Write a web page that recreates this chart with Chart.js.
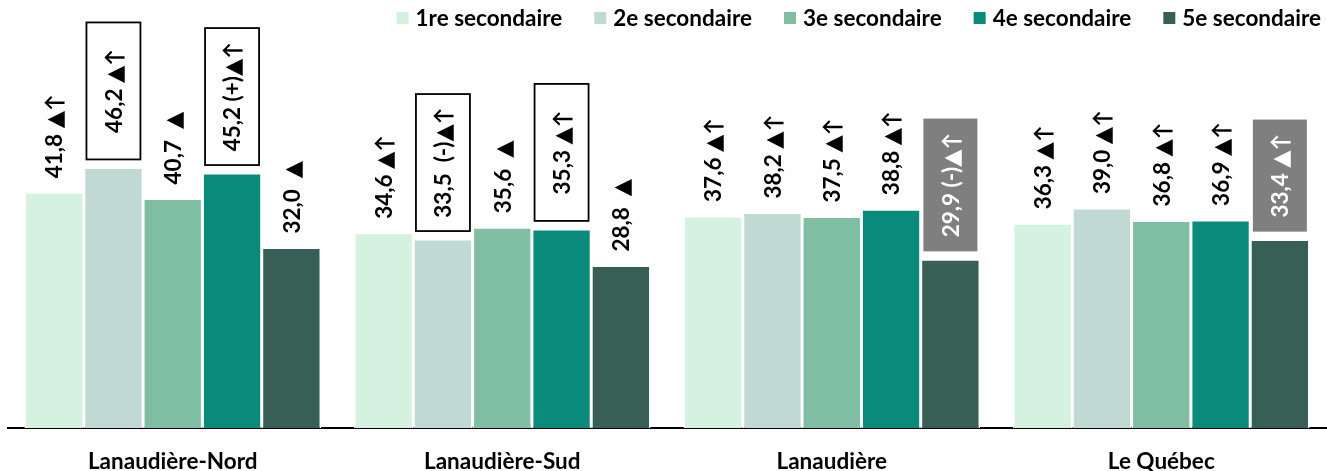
<!DOCTYPE html>
<html><head><meta charset="utf-8">
<script src="https://cdn.jsdelivr.net/npm/chart.js@4"></script>
<style>html,body{margin:0;padding:0;background:#fff}</style>
</head><body>
<canvas id="c" width="1327" height="471" style="width:1327px;height:471px;display:block"></canvas>
<script>
// ---- data ----
const categories = ['Lanaudière-Nord', 'Lanaudière-Sud', 'Lanaudière', 'Le Québec'];
const seriesNames = ['1re secondaire', '2e secondaire', '3e secondaire', '4e secondaire', '5e secondaire'];
const sec1 = [41.8, 34.6, 37.6, 36.3];
const sec2 = [46.2, 33.5, 38.2, 39.0];
const sec3 = [40.7, 35.6, 37.5, 36.8];
const sec4 = [45.2, 35.3, 38.8, 36.9];
const sec5 = [32.0, 28.8, 29.9, 33.4];
// annotation marks following each value
const sec1Notes = ['▲↑', '▲↑', '▲↑', '▲↑'];
const sec2Notes = ['▲↑', ' (-)▲↑', '▲↑', '▲↑'];
const sec3Notes = [' ▲', ' ▲', '▲↑', '▲↑'];
const sec4Notes = ['(+)▲↑', '▲↑', '▲↑', '▲↑'];
const sec5Notes = [' ▲', ' ▲', '(-)▲↑', '▲↑'];
// label frames: '' none, 'outline' black frame, 'gray' filled grey box
const sec1Frames = ['', '', '', ''];
const sec2Frames = ['outline', 'outline', '', ''];
const sec3Frames = ['', '', '', ''];
const sec4Frames = ['outline', 'outline', '', ''];
const sec5Frames = ['', '', 'gray', 'gray'];

// ---- styles ----
const colors = ['#D5F2E1', '#C0D9D3', '#80BEA3', '#0A8A7A', '#375F55'];
const FONT = 'Lato, "DejaVu Sans", sans-serif';

const values = [sec1, sec2, sec3, sec4, sec5];
const notes = [sec1Notes, sec2Notes, sec3Notes, sec4Notes, sec5Notes];
const frames = [sec1Frames, sec2Frames, sec3Frames, sec4Frames, sec5Frames];

const fmt = v => v.toFixed(1).replace('.', ',');

const labelPlugin = {
  id: 'valueLabels',
  afterDatasetsDraw(chart) {
    const ctx = chart.ctx;
    chart.data.datasets.forEach((ds, i) => {
      const meta = chart.getDatasetMeta(i);
      meta.data.forEach((bar, j) => {
        const txt = fmt(values[i][j]) + ' ' + notes[i][j];
        const frame = frames[i][j];
        ctx.save();
        ctx.font = 'bold 22.5px ' + FONT;
        ctx.translate(bar.x, bar.y);
        ctx.rotate(-Math.PI / 2);
        ctx.textBaseline = 'middle';
        if (frame) {
          const gap = 8, W = 54;
          const tw = ctx.measureText(txt).width;
          const H = frame === 'gray' ? tw + 28 : 137;
          if (frame === 'gray') {
            ctx.fillStyle = '#7F7F7F';
            ctx.fillRect(gap, -W / 2, H, W);
            ctx.fillStyle = '#FFFFFF';
          } else {
            ctx.strokeStyle = '#000';
            ctx.lineWidth = 1.8;
            ctx.strokeRect(gap, -W / 2, H, W);
            ctx.fillStyle = '#000';
          }
          ctx.textAlign = 'center';
          ctx.fillText(txt, gap + H / 2, 1);
        } else {
          ctx.fillStyle = '#000';
          ctx.textAlign = 'left';
          ctx.fillText(txt, 14, 1);
        }
        ctx.restore();
      });
    });
  }
};

// legend drawn across the top right
const legendPlugin = {
  id: 'topLegend',
  afterDraw(chart) {
    const ctx = chart.ctx;
    ctx.save();
    ctx.font = 'bold 22.5px ' + FONT;
    ctx.textBaseline = 'middle';
    ctx.textAlign = 'left';
    const box = 12, gapBT = 7, gapItem = 32, cy = 18;
    const widths = seriesNames.map(n => ctx.measureText(n).width);
    const total = widths.reduce((a, w) => a + box + gapBT + w, 0) + gapItem * (seriesNames.length - 1);
    let x = 1321 - total;
    seriesNames.forEach((n, i) => {
      ctx.fillStyle = colors[i];
      ctx.fillRect(x, cy - box / 2, box, box);
      x += box + gapBT;
      ctx.fillStyle = '#000';
      ctx.fillText(n, x, cy + 1);
      x += widths[i] + gapItem;
    });
    ctx.restore();
  }
};

new Chart(document.getElementById('c'), {
  type: 'bar',
  data: {
    labels: categories,
    datasets: seriesNames.map((n, i) => ({
      label: n,
      data: values[i],
      backgroundColor: colors[i],
      borderColor: '#FFFFFF',
      borderWidth: 1.5,
      categoryPercentage: 0.9,
      barPercentage: 1.0
    }))
  },
  options: {
    responsive: false,
    animation: false,
    devicePixelRatio: 1,
    layout: { padding: { top: 5, left: 8, right: 1, bottom: -16 } },
    plugins: {
      legend: { display: false },
      tooltip: { enabled: false }
    },
    scales: {
      x: {
        grid: { display: false },
        border: { display: true, color: '#000', width: 2 },
        ticks: { color: '#000', padding: 12, font: { family: FONT, weight: 'bold', size: 22.5 } }
      },
      y: {
        display: false,
        min: 0,
        max: 75
      }
    }
  },
  plugins: [labelPlugin, legendPlugin]
});
</script>
</body></html>
